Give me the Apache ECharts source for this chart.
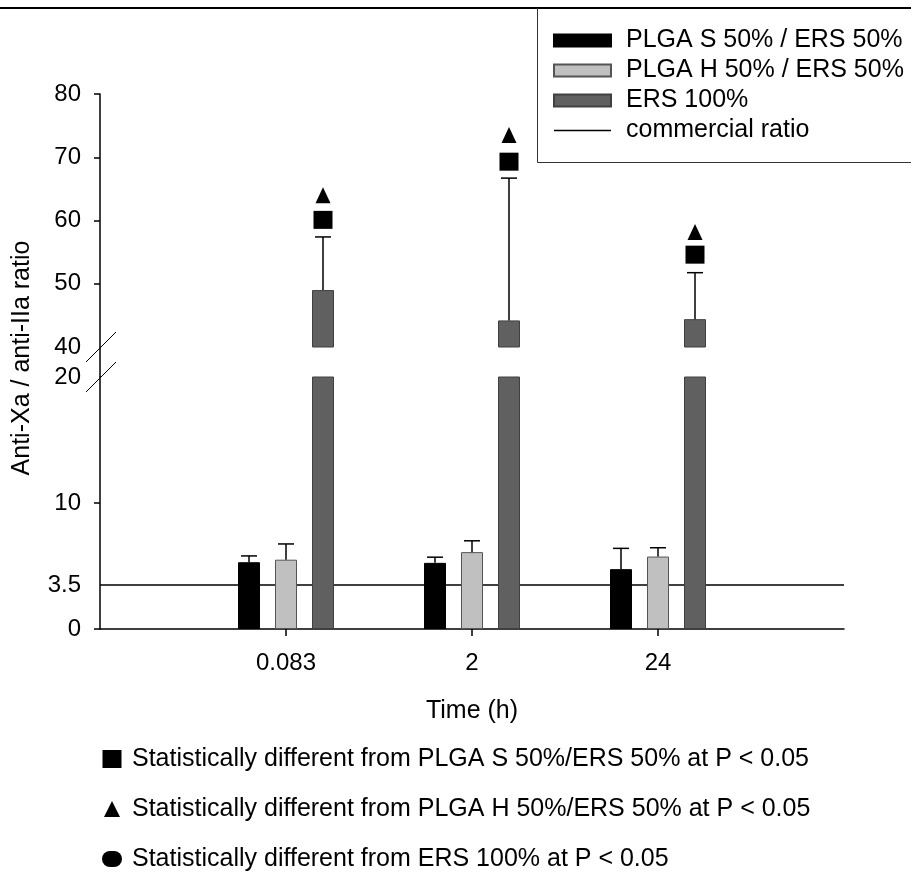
<!DOCTYPE html>
<html><head><meta charset="utf-8">
<script src="https://cdn.jsdelivr.net/npm/echarts@6/dist/echarts.min.js"></script>
<style>html,body{margin:0;padding:0;background:#fff}#c{width:911px;height:874px}</style>
</head><body><div id="c"></div>
<script>
// ---- data ----
const categories = ['', '0.083', '2', '24', ''];
const timeLabels = ['0.083', '2', '24'];
const plgaS = [5.3, 5.25, 4.75];
const plgaSErr = [0.5, 0.45, 1.65];
const plgaH = [5.5, 6.1, 5.75];
const plgaHErr = [1.25, 0.9, 0.7];
const ers = [49.0, 44.2, 44.4];
const ersErr = [8.4, 22.5, 7.35];
const sigSquare = [60.1, 69.3, 54.6];
const sigTriangle = [64.0, 73.5, 58.2];
const commercialRatio = 3.5;
const lowerLabels = [0, 3.5, 10, 20];
const lowerTicks = [0, 10];
const upperLabels = [40, 50, 60, 70, 80];
const upperTicks = [50, 60, 70, 80];
const seriesNames = ['PLGA S 50% / ERS 50%', 'PLGA H 50% / ERS 50%', 'ERS 100%', 'commercial ratio'];
const yTitle = 'Anti-Xa / anti-IIa ratio';
const xTitle = 'Time (h)';
const footnotes = [
  'Statistically different from PLGA S 50%/ERS 50% at P < 0.05',
  'Statistically different from PLGA H 50%/ERS 50% at P < 0.05',
  'Statistically different from ERS 100% at P < 0.05'
];

// ---- styles ----
const FONT = "'Liberation Sans', Arial, sans-serif";
const barWidth = 22, barGapPx = 15, slotPitch = barWidth + barGapPx, capHalf = 8;
const colS = '#000000', colH = '#c0c0c0', colE = '#606060';

const pad = arr => ['-'].concat(arr, ['-']);
const errData = (means, errs, slot) => means.map((m, i) => [i + 1, m, errs[i], slot]);
const ptData = vals => vals.map((v, i) => [i + 1, v]);

function errRender(params, api) {
  const c = api.value(0), m = api.value(1), e = api.value(2), slot = api.value(3);
  const p0 = api.coord([c, m]);
  const p1 = api.coord([c, m + e]);
  const x = p0[0] + (slot - 1) * slotPitch;
  return { type: 'group', children: [
    { type: 'line', shape: { x1: x, y1: p0[1], x2: x, y2: p1[1] }, style: { stroke: '#000', lineWidth: 1.5 } },
    { type: 'line', shape: { x1: x - capHalf, y1: p1[1], x2: x + capHalf, y2: p1[1] }, style: { stroke: '#000', lineWidth: 1.5 } }
  ]};
}

const chart = echarts.init(document.getElementById('c'), null, { renderer: 'canvas' });
const axisLineStyle = { color: '#000', width: 1.5 };
const labelStyle = { color: '#000', fontSize: 24, fontFamily: FONT };

const option = {
  animation: false,
  backgroundColor: '#fff',
  textStyle: { fontFamily: FONT },
  grid: [
    { left: 100, right: 67, top: 377, height: 252 },
    { left: 100, right: 67, top: 94, height: 253 }
  ],
  legend: {
    orient: 'vertical', left: 553, top: 28, padding: 0,
    itemWidth: 57, itemHeight: 12, itemGap: 5,
    textStyle: { fontSize: 25, color: '#000', fontFamily: FONT, padding: [0, 0, 0, 10], lineHeight: 25 },
    data: [
      { name: seriesNames[0], icon: 'rect' },
      { name: seriesNames[1], icon: 'rect' },
      { name: seriesNames[2], icon: 'rect' },
      { name: seriesNames[3], icon: 'path://M0,0H60V1.4H0Z' }
    ]
  },
  xAxis: [
    { gridIndex: 0, type: 'category', data: categories, boundaryGap: false,
      axisLine: { lineStyle: axisLineStyle },
      axisTick: { length: 7, lineStyle: { color: '#000', width: 1.5 }, interval: (i) => i > 0 && i < categories.length - 1 },
      axisLabel: Object.assign({ margin: 22, interval: 0 }, labelStyle),
      name: xTitle, nameLocation: 'middle', nameGap: 70,
      nameTextStyle: { fontSize: 25, color: '#000', fontFamily: FONT },
      splitLine: { show: false } },
    { gridIndex: 1, type: 'category', data: categories, boundaryGap: false, show: false }
  ],
  yAxis: [
    { gridIndex: 0, type: 'value', min: 0, max: 20, interval: 10,
      axisLine: { show: true, lineStyle: axisLineStyle },
      axisTick: { show: true, length: 6, lineStyle: { color: '#000', width: 1.5 }, customValues: lowerTicks },
      axisLabel: Object.assign({ margin: 19, customValues: lowerLabels }, labelStyle),
      splitLine: { show: false } },
    { gridIndex: 1, type: 'value', min: 40, max: 80, interval: 10,
      axisLine: { show: true, lineStyle: axisLineStyle },
      axisTick: { show: true, length: 6, lineStyle: { color: '#000', width: 1.5 }, customValues: upperTicks },
      axisLabel: Object.assign({ margin: 19, customValues: upperLabels }, labelStyle),
      splitLine: { show: false } }
  ],
  series: [
    { name: seriesNames[3], type: 'line', xAxisIndex: 0, yAxisIndex: 0, data: [], symbol: 'none', z: 1,
      lineStyle: { color: '#000', width: 1.5 }, itemStyle: { color: '#000' },
      markLine: { silent: true, symbol: 'none', label: { show: false }, z: 1,
        lineStyle: { color: '#000', width: 1.5, type: 'solid' }, data: [{ yAxis: commercialRatio }] } },
    // lower segment bars
    { name: seriesNames[0], type: 'bar', xAxisIndex: 0, yAxisIndex: 0, data: pad(plgaS), barWidth: barWidth, barGap: (barGapPx / barWidth * 100) + '%', clip: true, z: 3,
      itemStyle: { color: colS, borderColor: '#000', borderWidth: 1 } },
    { name: seriesNames[1], type: 'bar', xAxisIndex: 0, yAxisIndex: 0, data: pad(plgaH), barWidth: barWidth, clip: true, z: 3,
      itemStyle: { color: colH, borderColor: '#555', borderWidth: 1 } },
    { name: seriesNames[2], type: 'bar', xAxisIndex: 0, yAxisIndex: 0, data: pad(ers), barWidth: barWidth, clip: true, z: 3,
      itemStyle: { color: colE, borderColor: '#404040', borderWidth: 1 } },
    // upper segment bars
    { name: seriesNames[0], type: 'bar', xAxisIndex: 1, yAxisIndex: 1, data: pad([]), barWidth: barWidth, barGap: (barGapPx / barWidth * 100) + '%', clip: true, z: 3,
      itemStyle: { color: colS } },
    { name: seriesNames[1], type: 'bar', xAxisIndex: 1, yAxisIndex: 1, data: pad([]), barWidth: barWidth, clip: true, z: 3,
      itemStyle: { color: colH } },
    { name: seriesNames[2], type: 'bar', xAxisIndex: 1, yAxisIndex: 1, data: pad(ers), barWidth: barWidth, clip: true, z: 3,
      itemStyle: { color: colE, borderColor: '#404040', borderWidth: 1 } },
    // error bars
    { type: 'custom', xAxisIndex: 0, yAxisIndex: 0, renderItem: errRender, z: 4, silent: true,
      encode: { x: 0, y: 1 }, data: errData(plgaS, plgaSErr, 0).concat(errData(plgaH, plgaHErr, 1)) },
    { type: 'custom', xAxisIndex: 1, yAxisIndex: 1, renderItem: errRender, z: 4, silent: true,
      encode: { x: 0, y: 1 }, data: errData(ers, ersErr, 2) },
    // significance markers
    { type: 'scatter', xAxisIndex: 1, yAxisIndex: 1, data: ptData(sigSquare), symbol: 'rect', symbolSize: [19, 18],
      symbolOffset: [slotPitch, 0], itemStyle: { color: '#000', opacity: 1 }, z: 5, silent: true },
    { type: 'scatter', xAxisIndex: 1, yAxisIndex: 1, data: ptData(sigTriangle), symbol: 'triangle', symbolSize: [15, 16],
      symbolOffset: [slotPitch, 0], itemStyle: { color: '#000', opacity: 1 }, z: 5, silent: true }
  ]
};
chart.setOption(option);

// ---- decorations: frame, axis break, titles, footnotes ----
const pLowTop = chart.convertToPixel({ gridIndex: 0 }, [0, 20]);
const pUpBot = chart.convertToPixel({ gridIndex: 1 }, [0, 40]);
const ax = pLowTop[0];
const brk = (y) => ({ type: 'line', shape: { x1: ax - 14, y1: y + 15, x2: ax + 16, y2: y - 15 }, style: { stroke: '#000', lineWidth: 1 }, z: 10 });
const fnY = [759, 809, 859];
const fnX = 132;
const fnStyle = { fill: '#000', fontSize: 25, fontFamily: FONT, verticalAlign: 'middle', align: 'left' };
chart.setOption({
  graphic: [
    { type: 'line', shape: { x1: 0, y1: 8, x2: 911, y2: 8 }, style: { stroke: '#000', lineWidth: 2 } },
    { type: 'polyline', shape: { points: [[537.5, 8], [537.5, 162.5], [911, 162.5]] }, style: { stroke: '#333', lineWidth: 1, fill: null } },
    { type: 'line', shape: { x1: ax, y1: pUpBot[1], x2: ax, y2: pLowTop[1] }, style: { stroke: '#000', lineWidth: 1.5 } },
    brk(pUpBot[1]), brk(pLowTop[1]),
    { type: 'text', x: 22, y: 358, rotation: Math.PI / 2,
      style: { text: yTitle, fill: '#000', fontSize: 25, fontFamily: FONT, align: 'center', verticalAlign: 'middle' } },
    { type: 'rect', shape: { x: 102.5, y: fnY[0] - 9, width: 19, height: 18 }, style: { fill: '#000' } },
    { type: 'polygon', shape: { points: [[104, fnY[1] + 8], [120, fnY[1] + 8], [112, fnY[1] - 8]] }, style: { fill: '#000' } },
    { type: 'rect', shape: { x: 102, y: fnY[2] - 8, width: 20, height: 16, r: 8 }, style: { fill: '#000' } },
    { type: 'text', x: fnX, y: fnY[0], style: Object.assign({ text: footnotes[0] }, fnStyle) },
    { type: 'text', x: fnX, y: fnY[1], style: Object.assign({ text: footnotes[1] }, fnStyle) },
    { type: 'text', x: fnX, y: fnY[2], style: Object.assign({ text: footnotes[2] }, fnStyle) }
  ]
});
</script>
</body></html>
